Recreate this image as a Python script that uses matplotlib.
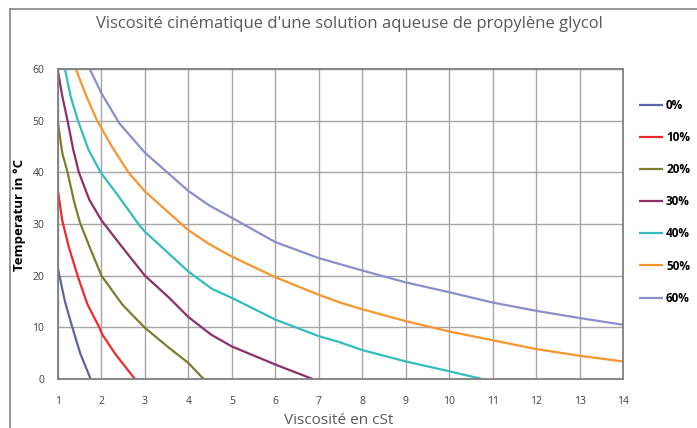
import matplotlib
matplotlib.use("Agg")
import matplotlib.pyplot as plt
from matplotlib.lines import Line2D

plt.rcParams['font.family'] = ['Open Sans', 'DejaVu Sans']

# temperature (°C) vs kinematic viscosity (cSt)
labels = ['0%', '10%', '20%', '30%', '40%', '50%', '60%']
colors = ['#5F62A6', '#EE2A2A', '#7C7D2E', '#8E2F66', '#33BDBF', '#F7962E', '#8B8ECC']

visc_0 = [1.0, 1.16, 1.33, 1.51, 1.75]
temp_0 = [21.3, 15, 10, 5, 0]

visc_10 = [1.0, 1.1, 1.25, 1.45, 1.68, 1.95, 2.02, 2.33, 2.77]
temp_10 = [36.3, 30.6, 25.5, 20, 14.4, 10, 8.6, 4.7, 0]

visc_20 = [1.0, 1.1, 1.22, 1.36, 1.5, 1.73, 2.0, 2.48, 3.0, 3.56, 4.0, 4.35]
temp_20 = [49.5, 43.7, 40, 34.7, 30.4, 25.5, 20, 14.4, 9.9, 6.0, 3.1, 0]

visc_30 = [1.0, 1.1, 1.22, 1.35, 1.48, 1.72, 2.0, 2.48, 3.0, 3.56, 4.0, 4.52, 5.0, 6.0, 6.86]
temp_30 = [59.5, 54.7, 50, 44.4, 40, 34.7, 30.7, 25.5, 20, 15.7, 12.0, 8.6, 6.3, 2.8, 0]

visc_40 = [1.16, 1.29, 1.46, 1.7, 1.98, 2.4, 2.85, 3.0, 3.56, 4.0, 4.55, 5.0, 6.0, 7.0, 7.49,
           8.0, 9.0, 10.0, 10.76]
temp_40 = [60, 54.7, 50, 44.4, 40, 35.3, 30, 28.5, 24.2, 20.8, 17.4, 15.7, 11.5, 8.3, 7.1,
           5.6, 3.4, 1.5, 0]

visc_50 = [1.41, 1.64, 1.9, 2.24, 2.62, 3.0, 4.0, 4.48, 5.0, 6.0, 7.0, 7.49,
           8.0, 9.0, 10.0, 11.0, 12.0, 13.0, 14.0]
temp_50 = [60, 55, 50, 45, 40, 36.3, 28.8, 26.1, 23.7, 19.7, 16.3, 14.8,
           13.5, 11.2, 9.2, 7.5, 5.8, 4.5, 3.4]

visc_60 = [1.73, 2.0, 2.41, 3.0, 4.0, 4.48, 5.0, 6.0, 7.0, 8.0, 9.0, 10.0, 11.0, 12.0, 13.0, 14.0]
temp_60 = [60, 55.3, 49.5, 43.8, 36.4, 33.6, 31.2, 26.5, 23.4, 21.0, 18.7, 16.8, 14.8, 13.2, 11.8, 10.5]

series = [(visc_0, temp_0), (visc_10, temp_10), (visc_20, temp_20), (visc_30, temp_30),
          (visc_40, temp_40), (visc_50, temp_50), (visc_60, temp_60)]

x_ticks = list(range(1, 15))
y_ticks = [0, 10, 20, 30, 40, 50, 60]

fig = plt.figure(figsize=(6.97, 4.28), dpi=100)
ax = fig.add_axes([58 / 697, 1 - 379 / 428, (623 - 58) / 697, (379 - 69) / 428])

# outer chart frame (left + top edges visible)
fig.add_artist(Line2D([10 / 697, 10 / 697], [0, 1 - 9 / 428], transform=fig.transFigure,
                      color='#858585', lw=1.2))
fig.add_artist(Line2D([10 / 697, 1], [1 - 9 / 428, 1 - 9 / 428], transform=fig.transFigure,
                      color='#858585', lw=1.2))

handles = []
for (v, t), lab, c in zip(series, labels, colors):
    h, = ax.plot(v, t, color=c, lw=1.6, label=lab, solid_capstyle='butt')
    handles.append(h)

ax.set_xlim(1, 14)
ax.set_ylim(0, 60)
ax.set_xticks(x_ticks)
ax.set_yticks(y_ticks)
ax.grid(True, color='#A6A6A6', lw=1.0)
ax.set_axisbelow(True)
for s in ax.spines.values():
    s.set_color('#7F7F7F')
    s.set_linewidth(1.3)
ax.tick_params(length=0, labelsize=7.5, labelcolor='#404040', pad=12)
ax.tick_params(axis='y', pad=10)

fig.text(349 / 697, 1 - 24 / 428, "Viscosité cinématique d'une solution aqueuse de propylène glycol",
         ha='center', va='center', fontsize=12, color='#595959')
fig.text(339 / 697, 1 - 420 / 428, "Viscosité en cSt", ha='center', va='center',
         fontsize=11, color='#595959')
fig.text(20 / 697, 1 - 215 / 428, "Temperatur in °C", ha='center', va='center',
         rotation=90, fontsize=9.5, fontweight='bold', color='#000000')

fig.legend(handles=handles, loc='upper left', bbox_to_anchor=(633 / 697, 1 - 93 / 428),
           frameon=False, borderpad=0, handlelength=2.0, handletextpad=0.3,
           labelspacing=1.62, prop={'size': 8.5, 'weight': 'bold'})

fig.savefig('out.png', dpi=100)
